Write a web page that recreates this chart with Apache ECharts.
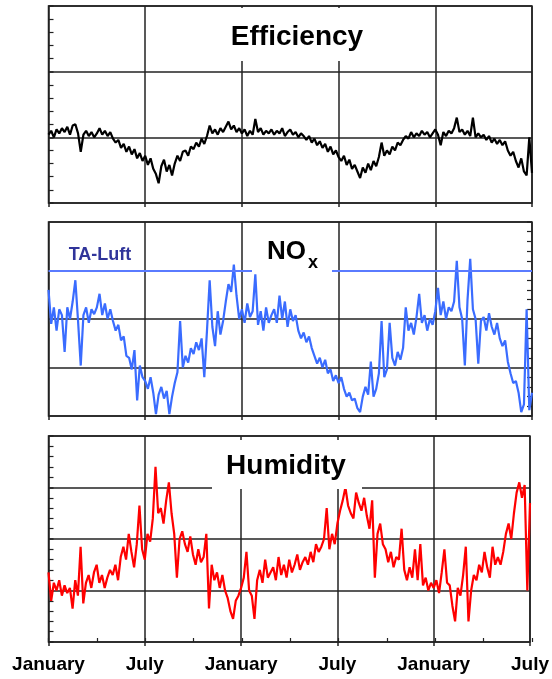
<!DOCTYPE html>
<html><head><meta charset="utf-8">
<script src="https://cdn.jsdelivr.net/npm/echarts/dist/echarts.min.js"></script>
<style>html,body{margin:0;padding:0;background:#fff}#c{width:552px;height:679px}</style>
</head><body><div id="c"></div>
<script>
// tick labels along the time axis (every 6 months)
const tickLabels = ['January', 'July', 'January', 'July', 'January', 'July'];
// one value every 1/6 month (~5 days), 30 months in total
const stepMonths = 1 / 6;

// Efficiency (%)
const efficiency = [
85.2,85.5,85.0,85.6,85.3,85.7, 85.4,85.8,85.2,85.9,86.0,85.3,
83.9,85.2,85.5,85.1,85.4,85.0, 85.3,85.7,85.2,85.5,85.1,85.4,
84.9,84.6,84.8,84.2,84.5,83.9, 84.3,83.7,84.1,83.4,83.8,83.2,
83.6,82.9,83.4,82.6,82.2,81.5, 82.8,83.3,82.4,82.9,82.1,83.0,
83.6,83.2,83.9,84.0,83.6,84.3, 84.1,84.6,84.3,84.9,84.5,85.1,
85.9,85.3,85.6,85.2,85.7,85.4, 85.8,86.2,85.6,85.9,85.4,85.7,
85.3,85.6,85.1,85.5,85.2,86.4, 85.4,85.7,85.2,85.5,85.3,85.6,
85.2,85.5,85.3,85.7,85.1,85.4, 85.6,85.2,85.4,85.0,85.3,85.1,
84.8,85.1,84.6,84.9,84.4,84.7, 84.2,84.5,83.9,84.3,83.7,84.0,
83.5,83.2,83.6,82.9,83.3,82.6, 82.9,82.4,81.9,82.7,82.3,83.0,
82.5,83.2,82.8,83.5,84.6,83.6, 84.0,83.7,84.3,84.0,84.6,84.4,
84.8,85.1,84.9,85.4,85.0,85.3, 85.1,85.5,85.2,85.4,85.0,85.3,
85.6,85.2,84.4,85.4,85.1,85.5, 85.3,85.7,86.5,85.4,85.6,85.2,
85.5,85.1,86.5,85.0,85.3,85.0, 85.2,84.8,85.1,84.6,84.9,84.5,
84.8,84.4,84.7,84.0,83.6,83.9, 83.2,82.7,83.4,82.4,82.1,85.0,
82.3
];

// NOx (mg/m3)
const nox = [
130,95,112,88,110,104, 66,112,100,118,140,98,
52,104,112,96,110,105, 112,126,104,116,100,110,
98,88,94,78,82,62, 60,48,68,16,52,40,
36,28,40,24,2,22, 30,18,26,2,20,34,
45,98,50,62,55,70, 64,76,68,80,40,88,
140,92,72,108,84,98, 118,136,128,156,124,100,
110,96,116,102,108,146, 94,108,88,112,96,104,
110,96,124,100,118,92, 110,98,104,88,80,86,
76,82,70,62,54,60, 50,58,44,48,36,42,
34,40,28,20,24,16, 18,8,4,20,30,22,
56,20,28,44,98,40, 48,96,60,52,66,58,
70,112,88,96,84,102, 126,96,104,88,100,94,
108,132,104,118,100,112, 108,118,160,112,100,52,
120,162,110,100,54,98, 102,88,106,92,84,96,
80,72,78,56,44,34, 36,24,4,12,110,6,
24
];
const taLuft = 150;

// Humidity (%)
const humidity = [
47,36,43,40,44,38, 42,39,41,33,44,38,
57,35,43,46,41,47, 50,43,46,41,45,48,
46,50,44,53,57,52, 62,55,49,58,73,56,
52,62,59,68,88,70, 72,66,75,82,70,62,
45,60,63,58,55,61, 54,50,56,51,53,62,
33,50,44,47,41,46, 40,37,32,29,36,38,
41,45,55,40,38,29, 44,48,43,52,45,47,
49,44,53,46,50,45, 52,47,50,54,48,51,
53,50,55,51,58,55, 57,60,72,56,62,58,
66,71,75,80,73,70, 68,78,74,71,76,69,
64,75,45,62,66,58, 56,51,55,49,53,52,
64,48,44,49,45,56, 44,58,42,45,40,43,
41,44,39,47,56,43, 42,34,28,41,38,46,
57,28,40,46,44,50, 47,55,49,45,57,50,
53,50,55,62,66,60, 70,78,82,76,81,40,
74
];

const toXY = arr => arr.map((v, i) => [i * stepMonths, v]);
const FONT = '"Liberation Sans", Arial, Helvetica, sans-serif';
const INK = '#222';
const gridLine = { color: INK, width: 1.5 };

const grids = [
  { left: 48.5, top: 6, width: 483.5, height: 197 },
  { left: 48.5, top: 222, width: 483.5, height: 194 },
  { left: 48.5, top: 436, width: 483.5, height: 206 }
].map(g => Object.assign(g, { show: true, borderColor: INK, borderWidth: 1.5, backgroundColor: 'transparent', containLabel: false }));
grids.push({ left: 48.5, top: 436, width: 483.5, height: 206, show: false, containLabel: false });

const xAxes = [0, 1, 2].map(k => ({
  type: 'value', gridIndex: k, min: 0, max: 30, interval: 6,
  axisLine: { show: false, onZero: false },
  axisTick: { show: true, length: 4, lineStyle: gridLine },
  splitLine: { show: true, lineStyle: gridLine },
  axisLabel: {
    show: k === 2, margin: 13, color: '#000', fontSize: 19, fontWeight: 'bold', fontFamily: FONT,
    formatter: v => tickLabels[Math.round(v / 6)] || ''
  }
}));
xAxes.push({
  type: 'value', gridIndex: 3, min: 0, max: 30, interval: 3, position: 'bottom',
  axisLine: { show: false, onZero: false },
  axisTick: { show: true, inside: true, length: 4, lineStyle: { color: INK, width: 1.2 } },
  splitLine: { show: false }, axisLabel: { show: false }
});

const yBase = (k, min, max, interval, pos) => ({
  type: 'value', gridIndex: k, min, max, interval, position: pos,
  axisLine: { show: false, onZero: false },
  axisTick: { show: true, inside: true, length: 5, lineStyle: gridLine },
  minorTick: { show: true, splitNumber: 5, length: 5, lineStyle: { color: INK, width: 1.2 } },
  splitLine: { show: true, lineStyle: gridLine },
  axisLabel: { show: false }
});
const yAxes = [
  yBase(0, 80, 95, 5, 'left'),
  yBase(1, 0, 200, 50, 'right'),
  yBase(2, 20, 100, 20, 'left'),
  { type: 'value', gridIndex: 3, min: 0, max: 1, show: false }
];

const option = {
  animation: false,
  backgroundColor: '#fff',
  grid: grids,
  xAxis: xAxes,
  yAxis: yAxes,
  series: [
    { type: 'line', name: 'Efficiency', xAxisIndex: 0, yAxisIndex: 0, data: toXY(efficiency),
      showSymbol: false, lineStyle: { color: '#000', width: 2.2 }, z: 3 },
    { type: 'line', name: 'NOx', xAxisIndex: 1, yAxisIndex: 1, data: toXY(nox),
      showSymbol: false, lineStyle: { color: '#3a6cff', width: 2.2 }, z: 3,
      markLine: { silent: true, symbol: 'none', label: { show: false },
        lineStyle: { color: '#5a7bff', width: 2, type: 'solid' }, data: [{ yAxis: taLuft }] } },
    { type: 'line', name: 'Humidity', xAxisIndex: 2, yAxisIndex: 2, data: toXY(humidity),
      showSymbol: false, lineStyle: { color: '#ff0000', width: 2.2 }, z: 3 }
  ],
  graphic: [
    { type: 'rect', z: 100, shape: { x: 220, y: 8, width: 152, height: 53 }, style: { fill: '#fff' } },
    { type: 'text', z: 101, x: 297, y: 37.5, style: { text: 'Efficiency', font: 'bold 28px ' + FONT, fill: '#000', textAlign: 'center', textVerticalAlign: 'middle' } },
    { type: 'rect', z: 100, shape: { x: 252, y: 224, width: 80, height: 49 }, style: { fill: '#fff' } },
    { type: 'text', z: 101, x: 267, y: 251.5, style: { text: 'NO', font: 'bold 26px ' + FONT, fill: '#000', textAlign: 'left', textVerticalAlign: 'middle' } },
    { type: 'text', z: 101, x: 308, y: 263, style: { text: 'x', font: 'bold 18px ' + FONT, fill: '#000', textAlign: 'left', textVerticalAlign: 'middle' } },
    { type: 'text', z: 101, x: 100, y: 255, style: { text: 'TA-Luft', font: 'bold 18px ' + FONT, fill: '#30349a', textAlign: 'center', textVerticalAlign: 'middle' } },
    { type: 'rect', z: 100, shape: { x: 212, y: 440, width: 150, height: 49 }, style: { fill: '#fff' } },
    { type: 'text', z: 101, x: 286, y: 466.5, style: { text: 'Humidity', font: 'bold 28px ' + FONT, fill: '#000', textAlign: 'center', textVerticalAlign: 'middle' } }
  ]
};
const chart = echarts.init(document.getElementById('c'), null, { renderer: 'canvas' });
chart.setOption(option);
</script>
</body></html>
